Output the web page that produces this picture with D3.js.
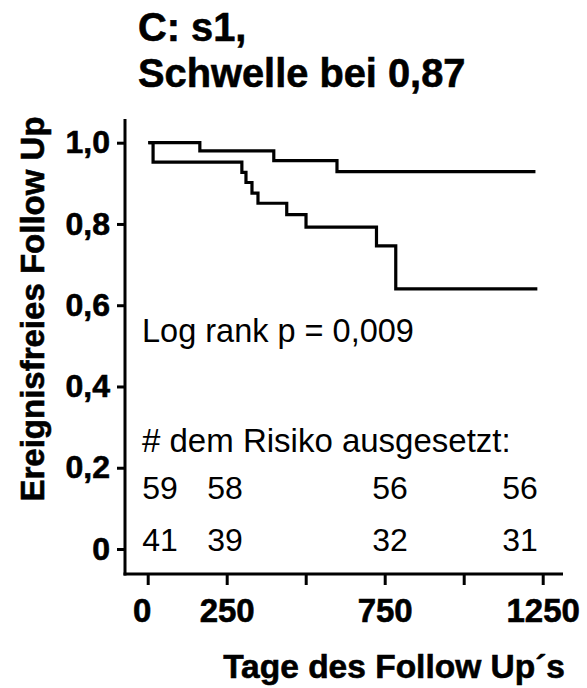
<!DOCTYPE html>
<html>
<head>
<meta charset="utf-8">
<script src="https://cdn.jsdelivr.net/npm/d3@7"></script>
<style>
  html, body { margin: 0; padding: 0; background: #fff; }
  svg { display: block; }
  text { font-family: "Liberation Sans", Arial, Helvetica, sans-serif; fill: #000; }
  .bold { font-weight: bold; stroke: #000; stroke-width: 0.6px; }
</style>
</head>
<body>
<svg id="chart" width="587" height="688"></svg>
<script>
// Kaplan-Meier curves: step times (days) and event-free proportion
const upperDays = [7, 165, 399, 599, 1222];
const upperSurv = [1.0, 0.980, 0.956, 0.929, 0.929];

const lowerDays = [7, 17, 298, 311, 330, 349, 440, 501, 724, 785, 1228];
const lowerSurv = [1.0, 0.952, 0.927, 0.902, 0.876, 0.851, 0.823, 0.792, 0.746, 0.640, 0.640];

// Numbers at risk
const riskDays = [39, 245, 767, 1178];
const riskUpper = [59, 58, 56, 56];
const riskLower = [41, 39, 32, 31];

// Axis ticks
const xTicks = [0, 250, 500, 750, 1000, 1250];
const xTickLabels = ["0", "250", "", "750", "", "1250"];
const yTicks = [0, 0.2, 0.4, 0.6, 0.8, 1.0];
const yTickLabels = ["0", "0,2", "0,4", "0,6", "0,8", "1,0"];

const titleLines = ["C: s1,", "Schwelle bei 0,87"];
const pText = "Log rank p = 0,009";
const riskTitle = "# dem Risiko ausgesetzt:";
const xTitle = "Tage des Follow Up\u00b4s";
const yTitle = "Ereignisfreies Follow Up";

const svg = d3.select("#chart");

const x = d3.scaleLinear().domain([0, 1250]).range([147.7, 542.7]);
const y = d3.scaleLinear().domain([0, 1]).range([549, 142.7]);

const axisX0 = 125;   // left axis line
const axisY0 = 574;   // bottom axis line

// Title
svg.append("text").attr("class", "bold")
  .attr("x", 138).attr("y", 41)
  .style("font-size", "39.8px")
  .text(titleLines[0]);
svg.append("text").attr("class", "bold")
  .attr("x", 138).attr("y", 87)
  .style("font-size", "39.8px")
  .text(titleLines[1]);

// Axis lines
svg.append("line")
  .attr("x1", axisX0).attr("x2", axisX0)
  .attr("y1", 119).attr("y2", axisY0 + 1.5)
  .attr("stroke", "#000").attr("stroke-width", 3);
svg.append("line")
  .attr("x1", axisX0 - 1.5).attr("x2", 563)
  .attr("y1", axisY0).attr("y2", axisY0)
  .attr("stroke", "#000").attr("stroke-width", 3);

// Y axis ticks and labels
const yAxis = d3.axisLeft(y)
  .tickValues(yTicks)
  .tickSize(8)
  .tickPadding(7)
  .tickFormat((d, i) => yTickLabels[i]);
const gy = svg.append("g").attr("transform", `translate(${axisX0},0)`).call(yAxis);
gy.select(".domain").remove();
gy.selectAll(".tick line").attr("stroke", "#000").attr("stroke-width", 3);
gy.selectAll(".tick text")
  .attr("class", "bold")
  .style("font-family", "'Liberation Sans', Arial, sans-serif")
  .style("font-size", "32px")
  .attr("fill", "#000");

// X axis ticks and labels
const xAxis = d3.axisBottom(x)
  .tickValues(xTicks)
  .tickSize(11)
  .tickPadding(14)
  .tickFormat((d, i) => xTickLabels[i]);
const gx = svg.append("g").attr("transform", `translate(0,${axisY0})`).call(xAxis);
gx.select(".domain").remove();
gx.selectAll(".tick line").attr("stroke", "#000").attr("stroke-width", 3);
gx.selectAll(".tick text")
  .attr("class", "bold")
  .style("font-family", "'Liberation Sans', Arial, sans-serif")
  .style("font-size", "33px")
  .attr("fill", "#000")
  .attr("dx", d => d === 0 ? -6 : 0);

// Axis titles
svg.append("text").attr("class", "bold")
  .attr("x", 565).attr("y", 678)
  .attr("text-anchor", "end")
  .style("font-size", "33.5px")
  .text(xTitle);
svg.append("text").attr("class", "bold")
  .attr("transform", "translate(44,309) rotate(-90)")
  .attr("text-anchor", "middle")
  .style("font-size", "33px")
  .text(yTitle);

// Survival curves
const line = d3.line()
  .x(d => x(d[0]))
  .y(d => y(d[1]))
  .curve(d3.curveStepAfter);

[[upperDays, upperSurv], [lowerDays, lowerSurv]].forEach(([days, surv]) => {
  svg.append("path")
    .datum(days.map((t, i) => [t, surv[i]]))
    .attr("d", line)
    .attr("fill", "none")
    .attr("stroke", "#000")
    .attr("stroke-width", 3.2)
    .attr("stroke-linejoin", "miter")
    .attr("stroke-linecap", "square");
});

// Annotations
svg.append("text")
  .attr("x", 142).attr("y", 342)
  .style("font-size", "32.5px")
  .text(pText);
svg.append("text")
  .attr("x", 142).attr("y", 452)
  .style("font-size", "33px")
  .text(riskTitle);

// Numbers at risk table
[[riskUpper, 499], [riskLower, 551]].forEach(([vals, by]) => {
  svg.append("g").selectAll("text")
    .data(vals)
    .join("text")
    .attr("x", (d, i) => x(riskDays[i]))
    .attr("y", by)
    .attr("text-anchor", "middle")
    .style("font-size", "32px")
    .text(d => d);
});
</script>
</body>
</html>
